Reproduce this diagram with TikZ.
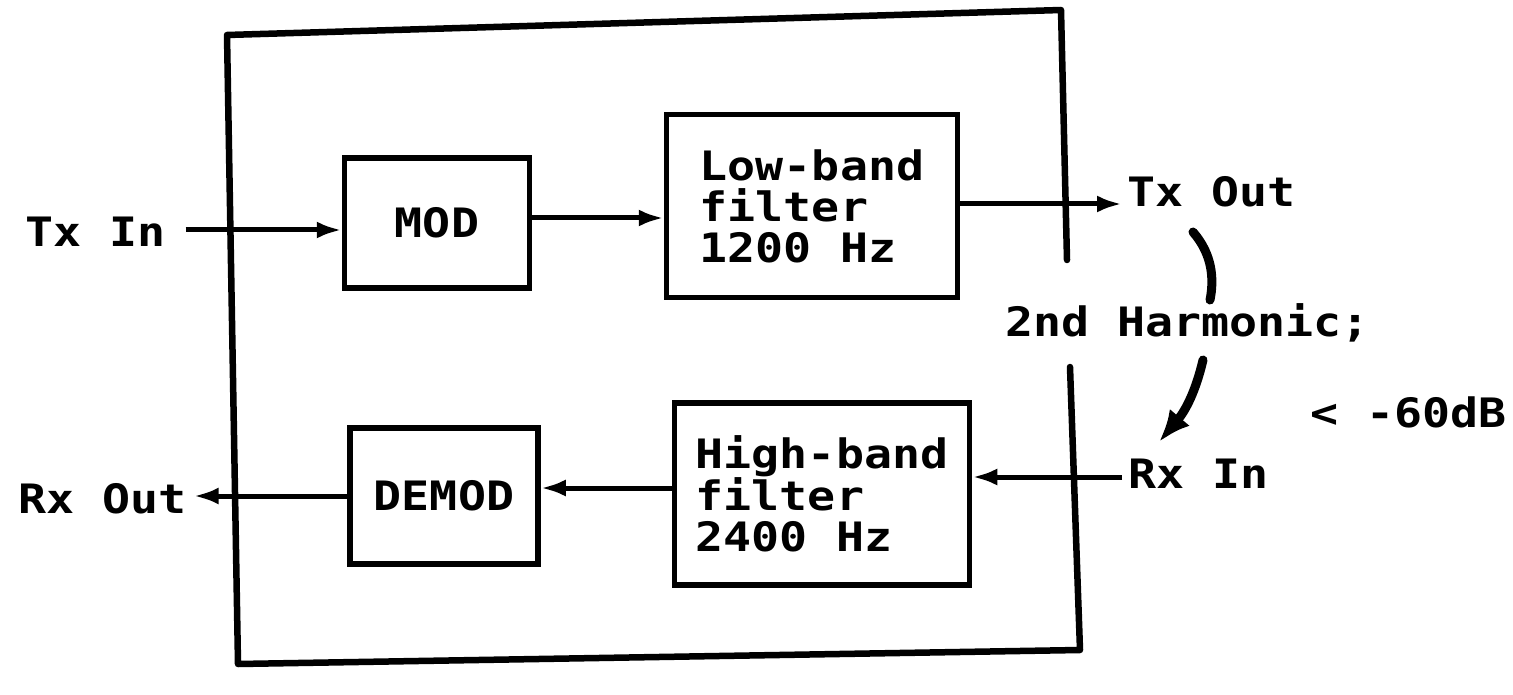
\documentclass[tikz,border=0pt]{standalone}
\usepackage{fontspec}
\setmonofont{DejaVu Sans Mono}[FakeStretch=1.15]
\usetikzlibrary{arrows.meta}
\tikzset{
  lbl/.style={font=\ttfamily\bfseries\fontsize{40.5}{41}\selectfont, inner sep=0pt, anchor=west},
  blk/.style={draw, line width=5.5pt, font=\ttfamily\bfseries\fontsize{40.5}{41}\selectfont, align=left, inner sep=0pt},
  frame/.style={line width=6.5pt, line cap=round, line join=round},
  conn/.style={line width=5pt},
  arr/.style={conn, -{Latex[length=25pt,width=17pt]}},
  harm/.style={line width=9pt, line cap=round},
}
\begin{document}
\begin{tikzpicture}[x=1pt,y=-1pt]
\useasboundingbox (0,0) rectangle (1513,695);
% outer frame (open on the right between Tx Out and Rx In)
\draw[frame] (1067,260) -- (1061,10) -- (227,35) -- (238,664) -- (1080,650) -- (1070,367);
% blocks
\node[blk, minimum width=185pt, minimum height=130pt] (mod) at (437,223) {MOD};
\node[blk, minimum width=291pt, minimum height=183pt] (low) at (812,206) {Low-band\\filter\\1200 Hz};
\node[blk, minimum width=295pt, minimum height=182pt] (high) at (822,494) {High-band\\filter\\2400 Hz};
\node[blk, minimum width=188pt, minimum height=136pt] (demod) at (444,496) {DEMOD};
% labels
\node[lbl] (txin) at (25,232) {Tx In};
\node[lbl] (rxout) at (18,499) {Rx Out};
\node[lbl] (txout) at (1127,192) {Tx Out};
\node[lbl] (rxin) at (1128,474) {Rx In};
\node[lbl] (harmlbl) at (1005,323) {2nd Harmonic;};
\node[lbl] (db) at (1310,412) {< -60dB};
% connectors
\draw[arr] ([xshift=20pt,yshift=2pt]txin.east) -- ([yshift=2pt]txin.east -| mod.west);
\draw[arr] ([yshift=5pt]mod.east) -- ([yshift=5pt]mod.east -| low.west);
\draw[arr] ([yshift=2pt]low.east) -- ([xshift=-5pt,yshift=2pt]low.east -| txout.west);
\draw[arr] ([xshift=-6pt,yshift=-3pt]rxin.west) -- ([yshift=-3pt]rxin.west -| high.east);
\draw[arr] ([yshift=6pt]high.west) -- ([yshift=6pt]high.west -| demod.east);
\draw[arr] ([yshift=3pt]demod.west |- rxout.east) -- ([xshift=7pt,yshift=3pt]rxout.east);
% harmonic coupling arrows
\coordinate (c1s) at (1193,232);
\coordinate (c1e) at (1210,300);
\draw[harm] (c1s) .. controls (1213,255) and (1214,280) .. (c1e);
\coordinate (c2s) at (1203,360);
\coordinate (c2e) at (1159,442);
\draw[harm, -{Latex[length=32pt,width=26pt]}] (c2s) .. controls (1196,390) and (1186,410) .. (c2e);
\end{tikzpicture}
\end{document}
